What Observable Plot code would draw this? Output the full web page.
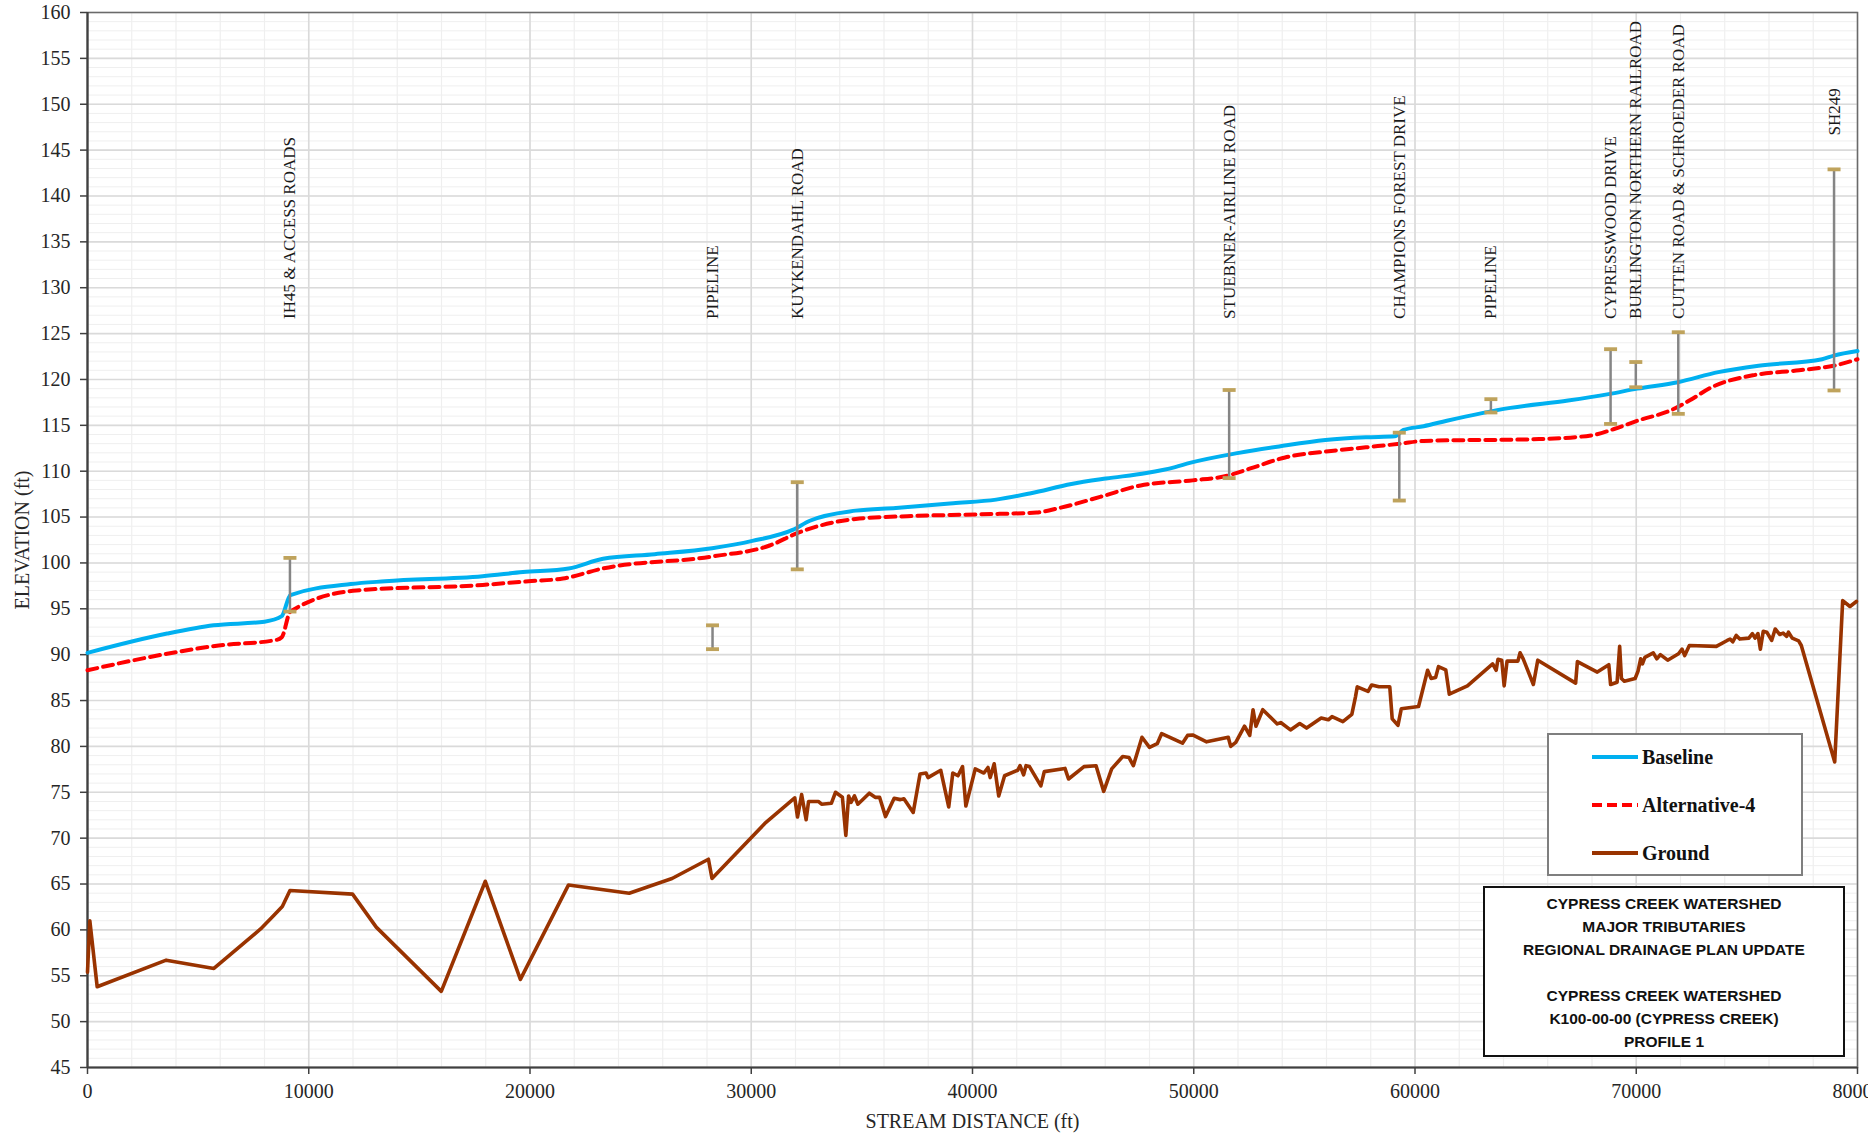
<!DOCTYPE html>
<html>
<head>
<meta charset="utf-8">
<script src="https://cdn.jsdelivr.net/npm/d3@7"></script>
<script src="https://cdn.jsdelivr.net/npm/@observablehq/plot@0.6"></script>
<style>
  html, body { margin: 0; padding: 0; background: #fff; overflow: hidden; }
  #wrap { position: relative; width: 1868px; height: 1135px; }
  #legend {
    position: absolute; left: 1547px; top: 733px; width: 252px; height: 139px;
    border: 2px solid #7f7f7f; background: #fff;
    font-family: 'Liberation Serif', 'Times New Roman', serif; font-weight: bold; font-size: 20px; color: #111;
  }
  .lg { position: absolute; left: 42px; height: 24px; display: flex; align-items: center; }
  .lg svg { margin-right: 3px; }
  #titlebox {
    position: absolute; left: 1483px; top: 886px; width: 362px; height: 171px;
    border: 2px solid #111; background: #fff;
    font-family: 'Liberation Sans', Arial, sans-serif; font-weight: bold; font-size: 15.5px; color: #111;
    text-align: center; line-height: 23px; padding-top: 4px; box-sizing: border-box;
  }
</style>
</head>
<body>
<div id="wrap"></div>
<script>
// ---------------- data ----------------
const xTicks = [0, 10000, 20000, 30000, 40000, 50000, 60000, 70000, 80000];
const yTicks = d3.range(45, 161, 5);

const baseline = [
  [0, 90.2], [3600, 92.3], [5700, 93.2], [8000, 93.6], [8780, 94.2], [9170, 96.5],
  [11900, 97.7], [13450, 98.0], [17860, 98.55], [19680, 99.0], [21750, 99.4],
  [23300, 100.45], [25640, 100.95], [28230, 101.6], [30050, 102.4], [31870, 103.6],
  [32650, 104.6], [34720, 105.7], [36540, 106.0], [39130, 106.5], [41070, 106.9],
  [42640, 107.6], [44470, 108.6], [46030, 109.2], [47860, 109.8], [49160, 110.45],
  [49820, 110.9], [52040, 112.0], [53860, 112.7], [55950, 113.4], [57780, 113.7],
  [59090, 113.8], [59480, 114.5], [60390, 114.9], [61440, 115.5], [64310, 116.9],
  [66920, 117.7], [68750, 118.4], [70050, 119.0], [71880, 119.7], [73710, 120.8],
  [75530, 121.5], [78400, 122.2], [78930, 122.6], [80000, 123.1]
];

const alternative4 = [
  [0, 88.3], [3600, 90.1], [5930, 91.0], [8520, 91.6], [8780, 91.9], [9170, 94.7],
  [12150, 97.0], [17860, 97.6], [19930, 98.0], [21490, 98.3], [23300, 99.4],
  [28230, 100.7], [30830, 101.9], [32130, 103.3], [34720, 104.8], [37060, 105.1],
  [40380, 105.3], [42900, 105.5], [43940, 106.0], [45770, 107.2], [47600, 108.45],
  [49950, 109.0], [51510, 109.5], [52560, 110.3], [54130, 111.5], [56210, 112.2],
  [57780, 112.6], [59350, 113.0], [60390, 113.3], [65610, 113.5], [67960, 113.9],
  [69000, 114.6], [70050, 115.5], [71620, 116.7], [72400, 117.7], [73450, 119.2],
  [75270, 120.45], [77360, 121.0], [78930, 121.5], [80000, 122.2]
];

const ground = [
  [0, 55.4], [105, 61.0], [437, 53.8], [3558, 56.7], [5714, 55.8], [7824, 60.1],
  [8428, 61.6], [8805, 62.55], [9151, 64.3], [11980, 63.9], [13050, 60.3],
  [15990, 53.3], [17980, 65.3], [19565, 54.6], [21742, 64.9], [24484, 64.0],
  [26419, 65.6], [28065, 67.7], [28226, 65.6], [30613, 71.6], [31966, 74.4],
  [32090, 72.3], [32277, 74.75], [32480, 72.0], [32590, 74.0], [33030, 74.0],
  [33180, 73.7], [33620, 73.8], [33807, 75.0], [34120, 74.45], [34275, 70.3],
  [34400, 74.6], [34510, 73.9], [34665, 74.6], [34820, 73.7], [35335, 74.9],
  [35600, 74.45], [35800, 74.45], [36070, 72.35], [36460, 74.35], [36740, 74.2],
  [36900, 74.3], [37320, 72.8], [37630, 77.0], [37900, 77.1], [37990, 76.6],
  [38565, 77.4], [38925, 73.4], [39110, 77.1], [39345, 76.8], [39550, 77.8],
  [39700, 73.5], [40125, 77.55], [40515, 77.1], [40700, 77.7], [40800, 76.6],
  [40980, 78.1], [41185, 74.6], [41450, 76.8], [42045, 77.4], [42150, 77.9],
  [42310, 76.9], [42420, 77.9], [42575, 77.8], [43090, 75.7], [43245, 77.25],
  [44180, 77.6], [44340, 76.45], [45040, 77.8], [45585, 77.9], [45930, 75.1],
  [46290, 77.55], [46790, 78.9], [47070, 78.8], [47270, 77.9], [47660, 81.0],
  [48000, 79.9], [48350, 80.3], [48550, 81.4], [49490, 80.35], [49720, 81.2],
  [49950, 81.25], [50580, 80.5], [51560, 81.0], [51670, 80.0], [51900, 80.45],
  [52295, 82.2], [52530, 81.2], [52680, 84.0], [52810, 82.2], [53120, 84.0],
  [53775, 82.45], [53930, 82.6], [54370, 81.8], [54790, 82.5], [55100, 82.0],
  [55760, 83.1], [56085, 82.9], [56250, 83.25], [56740, 82.7], [57145, 83.5],
  [57310, 85.4], [57390, 86.5], [57880, 86.0], [58040, 86.7], [58370, 86.5],
  [58860, 86.5], [58970, 83.0], [59230, 82.3], [59380, 84.1], [60160, 84.35],
  [60570, 88.3], [60730, 87.4], [60930, 87.5], [61060, 88.7], [61390, 88.35],
  [61550, 85.7], [62370, 86.6], [63510, 89.0], [63670, 88.3], [63750, 89.5],
  [63920, 89.4], [64030, 86.6], [64160, 89.3], [64650, 89.3], [64750, 90.2],
  [64890, 89.55], [65350, 86.75], [65550, 89.4], [67260, 86.9], [67340, 89.25],
  [68240, 88.1], [68760, 88.9], [68840, 86.75], [69135, 87.0], [69250, 90.9],
  [69330, 87.4], [69460, 87.1], [69950, 87.4], [70080, 88.2], [70200, 89.55],
  [70280, 89.0], [70390, 89.7], [70770, 90.2], [70930, 89.55], [71090, 90.0],
  [71420, 89.4], [71910, 90.1], [72070, 90.6], [72190, 89.9], [72400, 91.0],
  [73620, 90.9], [74110, 91.55], [74240, 91.7], [74360, 91.4], [74520, 92.1],
  [74680, 91.7], [75090, 91.8], [75250, 92.3], [75370, 91.8], [75500, 92.3],
  [75610, 90.6], [75740, 92.55], [75900, 92.45], [76120, 91.55], [76280, 92.8],
  [76480, 92.2], [76640, 92.35], [76800, 92.0], [76880, 92.45], [77050, 91.8],
  [77340, 91.5], [77460, 91.0], [78970, 78.3], [79330, 95.9], [79660, 95.25],
  [79950, 95.8]
];

const structureNames = [
  "IH45 & ACCESS ROADS", "PIPELINE", "KUYKENDAHL ROAD", "STUEBNER-AIRLINE ROAD",
  "CHAMPIONS FOREST DRIVE", "PIPELINE", "CYPRESSWOOD DRIVE",
  "BURLINGTON NORTHERN RAILROAD", "CUTTEN ROAD & SCHROEDER ROAD", "SH249"
];
const structureDistance = [9150, 28250, 32080, 51600, 59290, 63430, 68840, 69980, 71900, 78940];
const structureTop    = [100.55, 93.2, 108.8, 118.85, 114.2, 117.85, 123.3, 121.9, 125.15, 142.9];
const structureBottom = [94.7, 90.6, 99.3, 109.25, 106.8, 116.4, 115.15, 119.15, 116.25, 118.8];

// ---------------- build ----------------
const structures = structureNames.map((name, i) => ({
  name, x: structureDistance[i], top: structureTop[i], bottom: structureBottom[i]
}));
const caps = structures.flatMap(d => [{x: d.x, y: d.top}, {x: d.x, y: d.bottom}]);
const capSymbol = { draw(ctx) { ctx.rect(-6.5, -1.9, 13, 3.8); } };

const serif = "'Liberation Serif', 'Times New Roman', serif";

const chart = Plot.plot({
  width: 1868,
  height: 1135,
  marginLeft: 87,
  marginRight: 11,
  marginTop: 12,
  marginBottom: 68,
  x: { domain: [0, 80000] },
  y: { domain: [45, 160] },
  style: { fontFamily: serif, fontSize: "20px", color: "#262626", background: "#fff" },
  marks: [
    Plot.gridY(d3.range(45, 161, 1), { stroke: "#efefef", strokeOpacity: 1, strokeWidth: 1 }),
    Plot.gridX(d3.range(0, 80001, 2000), { stroke: "#efefef", strokeOpacity: 1, strokeWidth: 1.2 }),
    Plot.gridY(yTicks, { stroke: "#dadada", strokeOpacity: 1, strokeWidth: 1.6 }),
    Plot.gridX(xTicks, { stroke: "#dadada", strokeOpacity: 1, strokeWidth: 1.6 }),
    Plot.frame({ stroke: "#6a6a6a", strokeWidth: 1.5 }),
    Plot.ruleX([0], { stroke: "#404040", strokeWidth: 2.2 }),
    Plot.ruleY([45], { stroke: "#404040", strokeWidth: 2.2 }),
    Plot.axisX({
      ticks: xTicks, tickFormat: d3.format("d"), tickSize: 7, tickPadding: 9,
      stroke: "#404040", strokeWidth: 1.5, fontSize: 20,
      label: "STREAM DISTANCE (ft)", labelAnchor: "center", labelArrow: "none", labelOffset: 60
    }),
    Plot.axisY({
      ticks: yTicks, tickSize: 7, tickPadding: 10,
      stroke: "#404040", strokeWidth: 1.5, fontSize: 20,
      label: "ELEVATION (ft)", labelAnchor: "center", labelArrow: "none", labelOffset: 73
    }),
    Plot.line(ground, { x: d => d[0], y: d => d[1], stroke: "#993300", strokeWidth: 3.6, strokeLinejoin: "round" }),
    Plot.line(alternative4, { x: d => d[0], y: d => d[1], stroke: "#ff0000", strokeWidth: 4, strokeDasharray: "10,6", curve: "monotone-x" }),
    Plot.line(baseline, { x: d => d[0], y: d => d[1], stroke: "#00b0f0", strokeWidth: 4, curve: "monotone-x" }),
    Plot.ruleX(structures, { x: "x", y1: "bottom", y2: "top", stroke: "#858585", strokeWidth: 2.5 }),
    Plot.dot(caps, { x: "x", y: "y", symbol: capSymbol, fill: "#bfa35c", stroke: "none" }),
    Plot.text(structures, {
      x: "x", y: d => d.name === "SH249" ? 146.6 : 126.6, text: "name",
      rotate: -90, textAnchor: "start", lineAnchor: "middle",
      fontSize: 17, fill: "#1a1a1a", fontFamily: serif
    })
  ]
});

const wrap = document.getElementById("wrap");
wrap.appendChild(chart);

// legend
const legend = document.createElement("div");
legend.id = "legend";
const legendItems = [
  { label: "Baseline", color: "#00b0f0", dash: null },
  { label: "Alternative-4", color: "#ff0000", dash: "10,5" },
  { label: "Ground", color: "#993300", dash: null }
];
legendItems.forEach((it, i) => {
  const row = document.createElement("div");
  row.className = "lg";
  row.style.top = (10 + i * 48) + "px";
  row.innerHTML = `<svg width="48" height="10"><line x1="1" y1="5" x2="47" y2="5" stroke="${it.color}" stroke-width="4" ${it.dash ? `stroke-dasharray="${it.dash}"` : ""}/></svg><span>${it.label}</span>`;
  legend.appendChild(row);
});
wrap.appendChild(legend);

// title box
const titleLines = [
  "CYPRESS CREEK WATERSHED", "MAJOR TRIBUTARIES", "REGIONAL DRAINAGE PLAN UPDATE", "",
  "CYPRESS CREEK WATERSHED", "K100-00-00 (CYPRESS CREEK)", "PROFILE 1"
];
const tb = document.createElement("div");
tb.id = "titlebox";
tb.innerHTML = titleLines.map(l => `<div>${l || "&nbsp;"}</div>`).join("");
wrap.appendChild(tb);
</script>
</body>
</html>
